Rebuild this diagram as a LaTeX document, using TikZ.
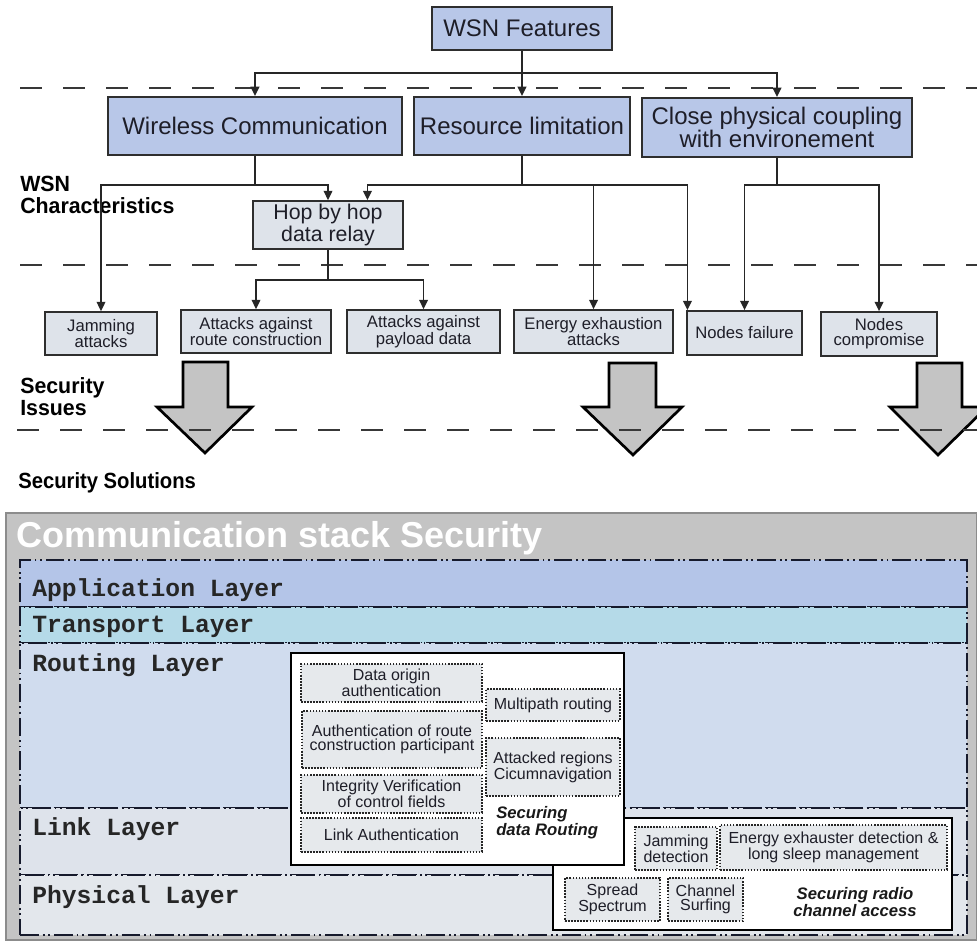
\documentclass[tikz,border=0pt]{standalone}
\usepackage{fontspec}
\usepackage{graphicx}
\setmainfont{Liberation Sans}
\setmonofont{Liberation Mono}
\usetikzlibrary{arrows.meta,calc}

\definecolor{boxline}{HTML}{2E2E2E}
\definecolor{featfill}{HTML}{B8C7E8}
\definecolor{issuefill}{HTML}{DEE3EA}
\definecolor{txtdark}{HTML}{1E1E28}
\definecolor{arrowfill}{HTML}{C4C4C4}
\definecolor{stackgray}{HTML}{C4C4C4}
\definecolor{appfill}{HTML}{B4C5E8}
\definecolor{trfill}{HTML}{B5DAE8}
\definecolor{rofill}{HTML}{D0DCEE}
\definecolor{lifill}{HTML}{DEE3EB}
\definecolor{phfill}{HTML}{E3E7EC}
\definecolor{solfill}{HTML}{E6E9EC}
\definecolor{layerline}{HTML}{161A2C}

\tikzset{
  sz/.style 2 args={minimum width=#1*0.75pt,minimum height=#2*0.75pt,inner sep=0pt},
  feature/.style={draw=boxline,line width=1.5pt,fill=featfill,text=txtdark,
    font=\fontsize{18}{15}\selectfont,align=center},
  issue/.style={draw=boxline,line width=1.3pt,fill=issuefill,text=txtdark,
    font=\fontsize{12.5}{11}\selectfont,align=center},
  relay/.style={issue,font=\fontsize{16}{14}\selectfont},
  sectionlbl/.style={anchor=base west,inner sep=0pt,text=black,
    font=\fontsize{16.5}{15}\selectfont\bfseries},
  separator/.style={draw=black!78,line width=1.5pt,dash pattern=on 16.5pt off 15.75pt},
  line/.style={draw=black!85,line width=1.3pt},
  arr/.style={line,-{Triangle[width=6.5pt,length=7pt]}},
  blockarrow/.style={draw=black,line width=2pt,fill=arrowfill,line join=miter},
  layer/.style={draw=layerline,line width=1.4pt,
    dash pattern=on 14pt off 3pt on 1.4pt off 2.6pt on 1.4pt off 3pt},
  layertxt/.style={anchor=west,inner sep=0pt,text=black!85,
    font={\ttfamily\bfseries\fontsize{18.5}{20}\selectfont}},
  group/.style={draw=black,line width=1.3pt,fill=white},
  sol/.style={draw=black!85,line width=1.2pt,dash pattern=on 1.2pt off 1.1pt,
    fill=solfill,text=txtdark,font=\fontsize{12}{10.5}\selectfont,align=center},
  grouptxt/.style={inner sep=0pt,align=left,text=black!90,
    font=\fontsize{12.5}{11}\selectfont\bfseries\itshape}
}

\begin{document}
\begin{tikzpicture}[x=0.75pt,y=-0.75pt]
\useasboundingbox (0,0) rectangle (977,940);

% ---------- top part: features, characteristics, issues ----------
% level separators
\draw[separator] (20,88) -- (977,88);
\draw[separator] (20,265) -- (977,265);

% feature boxes
\node[feature,sz={180}{43}] (feat) at (522,28.5) {WSN Features};
\node[feature,sz={294}{58}] (wc) at (255,126) {Wireless Communication};
\node[feature,sz={216}{58}] (rl) at (522,126) {Resource limitation};
\node[feature,sz={270}{59}] (cp) at (777,127.5) {Close physical coupling\\with environement};
\node[relay,sz={150}{48}] (hop) at (328,225) {Hop by hop\\data relay};

% issue boxes
\node[issue,sz={112}{43}] (ja) at (101,333.5) {Jamming\\attacks};
\node[issue,sz={150}{43}] (rc) at (256,331.5) {Attacks against\\route construction};
\node[issue,sz={153}{43}] (pd) at (423.5,331.5) {Attacks against\\payload data};
\node[issue,sz={159}{43}] (ea) at (593.5,331.5) {Energy exhaustion\\attacks};
\node[issue,sz={115}{44}] (nf) at (744.5,333) {Nodes failure};
\node[issue,sz={116}{44}] (nc) at (879,334) {Nodes\\compromise};

% section labels (one node per line, placed on their baselines)
\node[sectionlbl] (lchar1) at (20,191) {\scalebox{0.97}[1]{WSN}};
\node[sectionlbl] (lchar2) at (20,213) {\scalebox{0.97}[1]{Characteristics}};
\node[sectionlbl] (lissue1) at (20,393) {\scalebox{0.97}[1]{Security}};
\node[sectionlbl] (lissue2) at (20,415) {\scalebox{0.97}[1]{Issues}};
\node[sectionlbl] (lsol) at (18,488) {\scalebox{0.92}[1]{Security Solutions}};

% connectors
\coordinate (fbus) at (522,73);
\draw[line] (feat.south) -- (fbus);
\draw[arr] (fbus) -| (wc.north);
\draw[arr] (fbus) -| (cp.north);
\draw[arr] (fbus) -- (rl.north);

\coordinate (wbus) at (255,185);
\draw[line] (wc.south) -- (wbus);
\draw[arr] (wbus) -| (ja.north);
\draw[arr] (wbus) -| (hop.north);

\coordinate (rbus) at (522,185);
\draw[line] (rl.south) -- (rbus);
\draw[arr] (rbus) -| ($(hop.north west)!0.76!(hop.north east)$);
\draw[arr] (rbus) -| (ea.north);
\draw[arr] (rbus) -| ([xshift=1pt]nf.north west);

\coordinate (cbus) at (777,185);
\draw[line] (cp.south) -- (cbus);
\draw[arr] (cbus) -| (nf.north);
\draw[arr] (cbus) -| (nc.north);

\coordinate (hbus) at (328,280);
\draw[line] (hop.south) -- (hbus);
\draw[arr] (hbus) -| (rc.north);
\draw[arr] (hbus) -| (pd.north);

% block arrows from issues to solutions
\draw[blockarrow] (183,362) -- (228,362) -- (228,407) -- (252,407) -- (205,453)
  -- (157,407) -- (183,407) -- cycle;
\draw[blockarrow] (609,363) -- (656,363) -- (656,407) -- (682,407) -- (633,455)
  -- (583,407) -- (609,407) -- cycle;
\draw[blockarrow] (917,363) -- (962,363) -- (962,407) -- (987,407) -- (938,455)
  -- (890,407) -- (917,407) -- cycle;

\draw[separator] (17,430) -- (977,430);

% ---------- bottom part: communication stack ----------
\node[fill=stackgray,draw=black!45,line width=0.8pt,sz={971}{427}] (stack) at (491.5,726.5) {};
\node[anchor=west,inner sep=0pt,text=white,font=\fontsize{27}{27}\selectfont\bfseries]
  (stitle) at (16,538) {Communication stack Security};

\node[layer,fill=appfill,sz={947}{47}] (app) at (493.5,583.5) {};
\node[layer,fill=trfill,sz={947}{36}] (tr) at (493.5,625) {};
\node[layer,fill=rofill,sz={947}{165}] (ro) at (493.5,725.5) {};
\node[layer,fill=lifill,sz={947}{67}] (li) at (493.5,841.5) {};
\node[layer,fill=phfill,sz={947}{60}] (ph) at (493.5,905) {};

\node[layertxt] (tapp) at (32,590) {Application Layer};
\node[layertxt] (ttr) at (32,627) {Transport Layer};
\node[layertxt] (tro) at (32,665) {Routing Layer};
\node[layertxt] (tli) at (32,829) {Link Layer};
\node[layertxt] (tph) at (32,897) {Physical Layer};

% securing radio channel access
\node[group,sz={399}{112}] (radio) at (752.5,874) {};
\node[sol,sz={82}{43}] (jd) at (676,848.5) {Jamming\\detection};
\node[sol,sz={227}{45}] (ee) at (833.5,847.5) {Energy exhauster detection \&\\long sleep management};
\node[sol,sz={95}{43}] (ss) at (612.5,899.5) {Spread\\Spectrum};
\node[sol,sz={75}{43}] (cs) at (705.5,899.5) {Channel\\Surfing};
\node[grouptxt,align=center] (tradio) at (855,902) {Securing radio\\channel access};

% securing data routing
\node[group,sz={333}{212}] (routing) at (457.5,759) {};
\node[sol,sz={181}{38}] (doa) at (391.5,683) {Data origin\\authentication};
\node[sol,sz={180}{57}] (arc) at (392,739.5) {Authentication of route\\construction participant};
\node[sol,sz={181}{38}] (ivc) at (391.5,794) {Integrity Verification\\of control fields};
\node[sol,sz={181}{34}] (lau) at (391.5,835) {Link Authentication};
\node[sol,sz={134}{32}] (mr) at (553,705) {Multipath routing};
\node[sol,sz={134}{58}] (arx) at (553,767) {Attacked regions\\Cicumnavigation};
\node[grouptxt,anchor=north west] (trouting) at (496,806) {Securing\\data Routing};

\end{tikzpicture}
\end{document}
